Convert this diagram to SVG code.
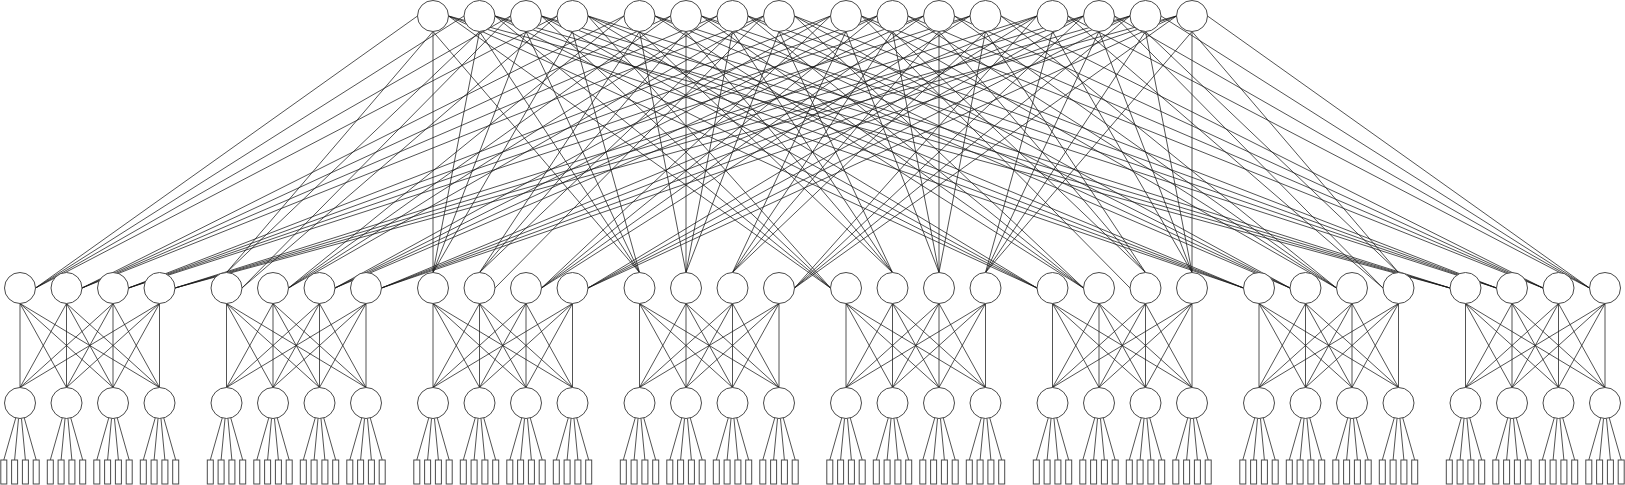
<svg xmlns="http://www.w3.org/2000/svg" xmlns:xlink="http://www.w3.org/1999/xlink" width="1625" height="485" viewBox="0 0 1625 485">
<style>
line{stroke:#1a1a1a;stroke-width:0.75;fill:none}
.n circle,.n rect{fill:#fff;stroke:#4a4a4a;stroke-width:1}
</style>
<defs>
<g id="podLinks">
<line x1="0" y1="303.5" x2="0" y2="387.5"/><line x1="0" y1="303.5" x2="46.5" y2="387.5"/><line x1="0" y1="303.5" x2="93" y2="387.5"/><line x1="0" y1="303.5" x2="139.5" y2="387.5"/>
<line x1="46.5" y1="303.5" x2="0" y2="387.5"/><line x1="46.5" y1="303.5" x2="46.5" y2="387.5"/><line x1="46.5" y1="303.5" x2="93" y2="387.5"/><line x1="46.5" y1="303.5" x2="139.5" y2="387.5"/>
<line x1="93" y1="303.5" x2="0" y2="387.5"/><line x1="93" y1="303.5" x2="46.5" y2="387.5"/><line x1="93" y1="303.5" x2="93" y2="387.5"/><line x1="93" y1="303.5" x2="139.5" y2="387.5"/>
<line x1="139.5" y1="303.5" x2="0" y2="387.5"/><line x1="139.5" y1="303.5" x2="46.5" y2="387.5"/><line x1="139.5" y1="303.5" x2="93" y2="387.5"/><line x1="139.5" y1="303.5" x2="139.5" y2="387.5"/>
<line x1="-4.24" y1="417.91" x2="-16.2" y2="460"/><line x1="-1.46" y1="418.43" x2="-5.4" y2="460"/><line x1="1.46" y1="418.43" x2="5.4" y2="460"/><line x1="4.24" y1="417.91" x2="16.2" y2="460"/>
<line x1="42.26" y1="417.91" x2="30.3" y2="460"/><line x1="45.04" y1="418.43" x2="41.1" y2="460"/><line x1="47.96" y1="418.43" x2="51.9" y2="460"/><line x1="50.74" y1="417.91" x2="62.7" y2="460"/>
<line x1="88.76" y1="417.91" x2="76.8" y2="460"/><line x1="91.54" y1="418.43" x2="87.6" y2="460"/><line x1="94.46" y1="418.43" x2="98.4" y2="460"/><line x1="97.24" y1="417.91" x2="109.2" y2="460"/>
<line x1="135.26" y1="417.91" x2="123.3" y2="460"/><line x1="138.04" y1="418.43" x2="134.1" y2="460"/><line x1="140.96" y1="418.43" x2="144.9" y2="460"/><line x1="143.74" y1="417.91" x2="155.7" y2="460"/>
</g>
</defs>
<rect width="1625" height="485" fill="#fff"/>
<g id="connectors">
<line x1="417.5" y1="16" x2="35.5" y2="288"/><line x1="433" y1="31.5" x2="226.5" y2="272.5"/><line x1="433" y1="31.5" x2="433" y2="272.5"/><line x1="433" y1="31.5" x2="639.5" y2="272.5"/><line x1="448.5" y1="16" x2="830.5" y2="288"/><line x1="448.5" y1="16" x2="1037" y2="288"/><line x1="448.5" y1="16" x2="1243.5" y2="288"/><line x1="448.5" y1="16" x2="1450" y2="288"/>
<line x1="464" y1="16" x2="35.5" y2="288"/><line x1="479.5" y1="31.5" x2="226.5" y2="272.5"/><line x1="479.5" y1="31.5" x2="433" y2="272.5"/><line x1="479.5" y1="31.5" x2="639.5" y2="272.5"/><line x1="495" y1="16" x2="830.5" y2="288"/><line x1="495" y1="16" x2="1037" y2="288"/><line x1="495" y1="16" x2="1243.5" y2="288"/><line x1="495" y1="16" x2="1450" y2="288"/>
<line x1="510.5" y1="16" x2="35.5" y2="288"/><line x1="510.5" y1="16" x2="242" y2="288"/><line x1="526" y1="31.5" x2="433" y2="272.5"/><line x1="526" y1="31.5" x2="639.5" y2="272.5"/><line x1="541.5" y1="16" x2="830.5" y2="288"/><line x1="541.5" y1="16" x2="1037" y2="288"/><line x1="541.5" y1="16" x2="1243.5" y2="288"/><line x1="541.5" y1="16" x2="1450" y2="288"/>
<line x1="557" y1="16" x2="35.5" y2="288"/><line x1="557" y1="16" x2="242" y2="288"/><line x1="572.5" y1="31.5" x2="433" y2="272.5"/><line x1="572.5" y1="31.5" x2="639.5" y2="272.5"/><line x1="588" y1="16" x2="830.5" y2="288"/><line x1="588" y1="16" x2="1037" y2="288"/><line x1="588" y1="16" x2="1243.5" y2="288"/><line x1="588" y1="16" x2="1450" y2="288"/>
<line x1="624" y1="16" x2="82" y2="288"/><line x1="624" y1="16" x2="288.5" y2="288"/><line x1="639.5" y1="31.5" x2="479.5" y2="272.5"/><line x1="639.5" y1="31.5" x2="686" y2="272.5"/><line x1="639.5" y1="31.5" x2="892.5" y2="272.5"/><line x1="655" y1="16" x2="1083.5" y2="288"/><line x1="655" y1="16" x2="1290" y2="288"/><line x1="655" y1="16" x2="1496.5" y2="288"/>
<line x1="670.5" y1="16" x2="82" y2="288"/><line x1="670.5" y1="16" x2="288.5" y2="288"/><line x1="686" y1="31.5" x2="479.5" y2="272.5"/><line x1="686" y1="31.5" x2="686" y2="272.5"/><line x1="686" y1="31.5" x2="892.5" y2="272.5"/><line x1="701.5" y1="16" x2="1083.5" y2="288"/><line x1="701.5" y1="16" x2="1290" y2="288"/><line x1="701.5" y1="16" x2="1496.5" y2="288"/>
<line x1="717" y1="16" x2="82" y2="288"/><line x1="717" y1="16" x2="288.5" y2="288"/><line x1="732.5" y1="31.5" x2="479.5" y2="272.5"/><line x1="732.5" y1="31.5" x2="686" y2="272.5"/><line x1="732.5" y1="31.5" x2="892.5" y2="272.5"/><line x1="748" y1="16" x2="1083.5" y2="288"/><line x1="748" y1="16" x2="1290" y2="288"/><line x1="748" y1="16" x2="1496.5" y2="288"/>
<line x1="763.5" y1="16" x2="82" y2="288"/><line x1="763.5" y1="16" x2="288.5" y2="288"/><line x1="763.5" y1="16" x2="495" y2="288"/><line x1="779" y1="31.5" x2="686" y2="272.5"/><line x1="779" y1="31.5" x2="892.5" y2="272.5"/><line x1="794.5" y1="16" x2="1083.5" y2="288"/><line x1="794.5" y1="16" x2="1290" y2="288"/><line x1="794.5" y1="16" x2="1496.5" y2="288"/>
<line x1="830.5" y1="16" x2="128.5" y2="288"/><line x1="830.5" y1="16" x2="335" y2="288"/><line x1="830.5" y1="16" x2="541.5" y2="288"/><line x1="846" y1="31.5" x2="732.5" y2="272.5"/><line x1="846" y1="31.5" x2="939" y2="272.5"/><line x1="861.5" y1="16" x2="1130" y2="288"/><line x1="861.5" y1="16" x2="1336.5" y2="288"/><line x1="861.5" y1="16" x2="1543" y2="288"/>
<line x1="877" y1="16" x2="128.5" y2="288"/><line x1="877" y1="16" x2="335" y2="288"/><line x1="877" y1="16" x2="541.5" y2="288"/><line x1="892.5" y1="31.5" x2="732.5" y2="272.5"/><line x1="892.5" y1="31.5" x2="939" y2="272.5"/><line x1="892.5" y1="31.5" x2="1145.5" y2="272.5"/><line x1="908" y1="16" x2="1336.5" y2="288"/><line x1="908" y1="16" x2="1543" y2="288"/>
<line x1="923.5" y1="16" x2="128.5" y2="288"/><line x1="923.5" y1="16" x2="335" y2="288"/><line x1="923.5" y1="16" x2="541.5" y2="288"/><line x1="939" y1="31.5" x2="732.5" y2="272.5"/><line x1="939" y1="31.5" x2="939" y2="272.5"/><line x1="939" y1="31.5" x2="1145.5" y2="272.5"/><line x1="954.5" y1="16" x2="1336.5" y2="288"/><line x1="954.5" y1="16" x2="1543" y2="288"/>
<line x1="970" y1="16" x2="128.5" y2="288"/><line x1="970" y1="16" x2="335" y2="288"/><line x1="970" y1="16" x2="541.5" y2="288"/><line x1="985.5" y1="31.5" x2="732.5" y2="272.5"/><line x1="985.5" y1="31.5" x2="939" y2="272.5"/><line x1="985.5" y1="31.5" x2="1145.5" y2="272.5"/><line x1="1001" y1="16" x2="1336.5" y2="288"/><line x1="1001" y1="16" x2="1543" y2="288"/>
<line x1="1037" y1="16" x2="175" y2="288"/><line x1="1037" y1="16" x2="381.5" y2="288"/><line x1="1037" y1="16" x2="588" y2="288"/><line x1="1037" y1="16" x2="794.5" y2="288"/><line x1="1052.5" y1="31.5" x2="985.5" y2="272.5"/><line x1="1052.5" y1="31.5" x2="1192" y2="272.5"/><line x1="1068" y1="16" x2="1383" y2="288"/><line x1="1068" y1="16" x2="1589.5" y2="288"/>
<line x1="1083.5" y1="16" x2="175" y2="288"/><line x1="1083.5" y1="16" x2="381.5" y2="288"/><line x1="1083.5" y1="16" x2="588" y2="288"/><line x1="1083.5" y1="16" x2="794.5" y2="288"/><line x1="1099" y1="31.5" x2="985.5" y2="272.5"/><line x1="1099" y1="31.5" x2="1192" y2="272.5"/><line x1="1114.5" y1="16" x2="1383" y2="288"/><line x1="1114.5" y1="16" x2="1589.5" y2="288"/>
<line x1="1130" y1="16" x2="175" y2="288"/><line x1="1130" y1="16" x2="381.5" y2="288"/><line x1="1130" y1="16" x2="588" y2="288"/><line x1="1130" y1="16" x2="794.5" y2="288"/><line x1="1145.5" y1="31.5" x2="985.5" y2="272.5"/><line x1="1145.5" y1="31.5" x2="1192" y2="272.5"/><line x1="1145.5" y1="31.5" x2="1398.5" y2="272.5"/><line x1="1161" y1="16" x2="1589.5" y2="288"/>
<line x1="1176.5" y1="16" x2="175" y2="288"/><line x1="1176.5" y1="16" x2="381.5" y2="288"/><line x1="1176.5" y1="16" x2="588" y2="288"/><line x1="1176.5" y1="16" x2="794.5" y2="288"/><line x1="1192" y1="31.5" x2="985.5" y2="272.5"/><line x1="1192" y1="31.5" x2="1192" y2="272.5"/><line x1="1192" y1="31.5" x2="1398.5" y2="272.5"/><line x1="1207.5" y1="16" x2="1589.5" y2="288"/>
<use xlink:href="#podLinks" href="#podLinks" x="20"/>
<use xlink:href="#podLinks" href="#podLinks" x="226.5"/>
<use xlink:href="#podLinks" href="#podLinks" x="433"/>
<use xlink:href="#podLinks" href="#podLinks" x="639.5"/>
<use xlink:href="#podLinks" href="#podLinks" x="846"/>
<use xlink:href="#podLinks" href="#podLinks" x="1052.5"/>
<use xlink:href="#podLinks" href="#podLinks" x="1259"/>
<use xlink:href="#podLinks" href="#podLinks" x="1465.5"/>
</g>
<g id="core">
<g id="c0" class="n"><circle cx="433" cy="16" r="15.5"/></g>
<g id="c1" class="n"><circle cx="479.5" cy="16" r="15.5"/></g>
<g id="c2" class="n"><circle cx="526" cy="16" r="15.5"/></g>
<g id="c3" class="n"><circle cx="572.5" cy="16" r="15.5"/></g>
<g id="c4" class="n"><circle cx="639.5" cy="16" r="15.5"/></g>
<g id="c5" class="n"><circle cx="686" cy="16" r="15.5"/></g>
<g id="c6" class="n"><circle cx="732.5" cy="16" r="15.5"/></g>
<g id="c7" class="n"><circle cx="779" cy="16" r="15.5"/></g>
<g id="c8" class="n"><circle cx="846" cy="16" r="15.5"/></g>
<g id="c9" class="n"><circle cx="892.5" cy="16" r="15.5"/></g>
<g id="c10" class="n"><circle cx="939" cy="16" r="15.5"/></g>
<g id="c11" class="n"><circle cx="985.5" cy="16" r="15.5"/></g>
<g id="c12" class="n"><circle cx="1052.5" cy="16" r="15.5"/></g>
<g id="c13" class="n"><circle cx="1099" cy="16" r="15.5"/></g>
<g id="c14" class="n"><circle cx="1145.5" cy="16" r="15.5"/></g>
<g id="c15" class="n"><circle cx="1192" cy="16" r="15.5"/></g>
</g>
<g id="pod0" transform="translate(20 0)">
<g id="a0-0" class="n"><circle cx="0" cy="288" r="15.5"/></g><g id="a0-1" class="n"><circle cx="46.5" cy="288" r="15.5"/></g><g id="a0-2" class="n"><circle cx="93" cy="288" r="15.5"/></g><g id="a0-3" class="n"><circle cx="139.5" cy="288" r="15.5"/></g>
<g id="e0-0" class="n"><circle cx="0" cy="403" r="15.5"/></g><g id="e0-1" class="n"><circle cx="46.5" cy="403" r="15.5"/></g><g id="e0-2" class="n"><circle cx="93" cy="403" r="15.5"/></g><g id="e0-3" class="n"><circle cx="139.5" cy="403" r="15.5"/></g>
<g id="h0-0-0" class="n"><rect x="-19.2" y="460" width="6" height="24"/></g><g id="h0-0-1" class="n"><rect x="-8.4" y="460" width="6" height="24"/></g><g id="h0-0-2" class="n"><rect x="2.4" y="460" width="6" height="24"/></g><g id="h0-0-3" class="n"><rect x="13.2" y="460" width="6" height="24"/></g>
<g id="h0-1-0" class="n"><rect x="27.3" y="460" width="6" height="24"/></g><g id="h0-1-1" class="n"><rect x="38.1" y="460" width="6" height="24"/></g><g id="h0-1-2" class="n"><rect x="48.9" y="460" width="6" height="24"/></g><g id="h0-1-3" class="n"><rect x="59.7" y="460" width="6" height="24"/></g>
<g id="h0-2-0" class="n"><rect x="73.8" y="460" width="6" height="24"/></g><g id="h0-2-1" class="n"><rect x="84.6" y="460" width="6" height="24"/></g><g id="h0-2-2" class="n"><rect x="95.4" y="460" width="6" height="24"/></g><g id="h0-2-3" class="n"><rect x="106.2" y="460" width="6" height="24"/></g>
<g id="h0-3-0" class="n"><rect x="120.3" y="460" width="6" height="24"/></g><g id="h0-3-1" class="n"><rect x="131.1" y="460" width="6" height="24"/></g><g id="h0-3-2" class="n"><rect x="141.9" y="460" width="6" height="24"/></g><g id="h0-3-3" class="n"><rect x="152.7" y="460" width="6" height="24"/></g>
</g>
<g id="pod1" transform="translate(226.5 0)">
<g id="a1-0" class="n"><circle cx="0" cy="288" r="15.5"/></g><g id="a1-1" class="n"><circle cx="46.5" cy="288" r="15.5"/></g><g id="a1-2" class="n"><circle cx="93" cy="288" r="15.5"/></g><g id="a1-3" class="n"><circle cx="139.5" cy="288" r="15.5"/></g>
<g id="e1-0" class="n"><circle cx="0" cy="403" r="15.5"/></g><g id="e1-1" class="n"><circle cx="46.5" cy="403" r="15.5"/></g><g id="e1-2" class="n"><circle cx="93" cy="403" r="15.5"/></g><g id="e1-3" class="n"><circle cx="139.5" cy="403" r="15.5"/></g>
<g id="h1-0-0" class="n"><rect x="-19.2" y="460" width="6" height="24"/></g><g id="h1-0-1" class="n"><rect x="-8.4" y="460" width="6" height="24"/></g><g id="h1-0-2" class="n"><rect x="2.4" y="460" width="6" height="24"/></g><g id="h1-0-3" class="n"><rect x="13.2" y="460" width="6" height="24"/></g>
<g id="h1-1-0" class="n"><rect x="27.3" y="460" width="6" height="24"/></g><g id="h1-1-1" class="n"><rect x="38.1" y="460" width="6" height="24"/></g><g id="h1-1-2" class="n"><rect x="48.9" y="460" width="6" height="24"/></g><g id="h1-1-3" class="n"><rect x="59.7" y="460" width="6" height="24"/></g>
<g id="h1-2-0" class="n"><rect x="73.8" y="460" width="6" height="24"/></g><g id="h1-2-1" class="n"><rect x="84.6" y="460" width="6" height="24"/></g><g id="h1-2-2" class="n"><rect x="95.4" y="460" width="6" height="24"/></g><g id="h1-2-3" class="n"><rect x="106.2" y="460" width="6" height="24"/></g>
<g id="h1-3-0" class="n"><rect x="120.3" y="460" width="6" height="24"/></g><g id="h1-3-1" class="n"><rect x="131.1" y="460" width="6" height="24"/></g><g id="h1-3-2" class="n"><rect x="141.9" y="460" width="6" height="24"/></g><g id="h1-3-3" class="n"><rect x="152.7" y="460" width="6" height="24"/></g>
</g>
<g id="pod2" transform="translate(433 0)">
<g id="a2-0" class="n"><circle cx="0" cy="288" r="15.5"/></g><g id="a2-1" class="n"><circle cx="46.5" cy="288" r="15.5"/></g><g id="a2-2" class="n"><circle cx="93" cy="288" r="15.5"/></g><g id="a2-3" class="n"><circle cx="139.5" cy="288" r="15.5"/></g>
<g id="e2-0" class="n"><circle cx="0" cy="403" r="15.5"/></g><g id="e2-1" class="n"><circle cx="46.5" cy="403" r="15.5"/></g><g id="e2-2" class="n"><circle cx="93" cy="403" r="15.5"/></g><g id="e2-3" class="n"><circle cx="139.5" cy="403" r="15.5"/></g>
<g id="h2-0-0" class="n"><rect x="-19.2" y="460" width="6" height="24"/></g><g id="h2-0-1" class="n"><rect x="-8.4" y="460" width="6" height="24"/></g><g id="h2-0-2" class="n"><rect x="2.4" y="460" width="6" height="24"/></g><g id="h2-0-3" class="n"><rect x="13.2" y="460" width="6" height="24"/></g>
<g id="h2-1-0" class="n"><rect x="27.3" y="460" width="6" height="24"/></g><g id="h2-1-1" class="n"><rect x="38.1" y="460" width="6" height="24"/></g><g id="h2-1-2" class="n"><rect x="48.9" y="460" width="6" height="24"/></g><g id="h2-1-3" class="n"><rect x="59.7" y="460" width="6" height="24"/></g>
<g id="h2-2-0" class="n"><rect x="73.8" y="460" width="6" height="24"/></g><g id="h2-2-1" class="n"><rect x="84.6" y="460" width="6" height="24"/></g><g id="h2-2-2" class="n"><rect x="95.4" y="460" width="6" height="24"/></g><g id="h2-2-3" class="n"><rect x="106.2" y="460" width="6" height="24"/></g>
<g id="h2-3-0" class="n"><rect x="120.3" y="460" width="6" height="24"/></g><g id="h2-3-1" class="n"><rect x="131.1" y="460" width="6" height="24"/></g><g id="h2-3-2" class="n"><rect x="141.9" y="460" width="6" height="24"/></g><g id="h2-3-3" class="n"><rect x="152.7" y="460" width="6" height="24"/></g>
</g>
<g id="pod3" transform="translate(639.5 0)">
<g id="a3-0" class="n"><circle cx="0" cy="288" r="15.5"/></g><g id="a3-1" class="n"><circle cx="46.5" cy="288" r="15.5"/></g><g id="a3-2" class="n"><circle cx="93" cy="288" r="15.5"/></g><g id="a3-3" class="n"><circle cx="139.5" cy="288" r="15.5"/></g>
<g id="e3-0" class="n"><circle cx="0" cy="403" r="15.5"/></g><g id="e3-1" class="n"><circle cx="46.5" cy="403" r="15.5"/></g><g id="e3-2" class="n"><circle cx="93" cy="403" r="15.5"/></g><g id="e3-3" class="n"><circle cx="139.5" cy="403" r="15.5"/></g>
<g id="h3-0-0" class="n"><rect x="-19.2" y="460" width="6" height="24"/></g><g id="h3-0-1" class="n"><rect x="-8.4" y="460" width="6" height="24"/></g><g id="h3-0-2" class="n"><rect x="2.4" y="460" width="6" height="24"/></g><g id="h3-0-3" class="n"><rect x="13.2" y="460" width="6" height="24"/></g>
<g id="h3-1-0" class="n"><rect x="27.3" y="460" width="6" height="24"/></g><g id="h3-1-1" class="n"><rect x="38.1" y="460" width="6" height="24"/></g><g id="h3-1-2" class="n"><rect x="48.9" y="460" width="6" height="24"/></g><g id="h3-1-3" class="n"><rect x="59.7" y="460" width="6" height="24"/></g>
<g id="h3-2-0" class="n"><rect x="73.8" y="460" width="6" height="24"/></g><g id="h3-2-1" class="n"><rect x="84.6" y="460" width="6" height="24"/></g><g id="h3-2-2" class="n"><rect x="95.4" y="460" width="6" height="24"/></g><g id="h3-2-3" class="n"><rect x="106.2" y="460" width="6" height="24"/></g>
<g id="h3-3-0" class="n"><rect x="120.3" y="460" width="6" height="24"/></g><g id="h3-3-1" class="n"><rect x="131.1" y="460" width="6" height="24"/></g><g id="h3-3-2" class="n"><rect x="141.9" y="460" width="6" height="24"/></g><g id="h3-3-3" class="n"><rect x="152.7" y="460" width="6" height="24"/></g>
</g>
<g id="pod4" transform="translate(846 0)">
<g id="a4-0" class="n"><circle cx="0" cy="288" r="15.5"/></g><g id="a4-1" class="n"><circle cx="46.5" cy="288" r="15.5"/></g><g id="a4-2" class="n"><circle cx="93" cy="288" r="15.5"/></g><g id="a4-3" class="n"><circle cx="139.5" cy="288" r="15.5"/></g>
<g id="e4-0" class="n"><circle cx="0" cy="403" r="15.5"/></g><g id="e4-1" class="n"><circle cx="46.5" cy="403" r="15.5"/></g><g id="e4-2" class="n"><circle cx="93" cy="403" r="15.5"/></g><g id="e4-3" class="n"><circle cx="139.5" cy="403" r="15.5"/></g>
<g id="h4-0-0" class="n"><rect x="-19.2" y="460" width="6" height="24"/></g><g id="h4-0-1" class="n"><rect x="-8.4" y="460" width="6" height="24"/></g><g id="h4-0-2" class="n"><rect x="2.4" y="460" width="6" height="24"/></g><g id="h4-0-3" class="n"><rect x="13.2" y="460" width="6" height="24"/></g>
<g id="h4-1-0" class="n"><rect x="27.3" y="460" width="6" height="24"/></g><g id="h4-1-1" class="n"><rect x="38.1" y="460" width="6" height="24"/></g><g id="h4-1-2" class="n"><rect x="48.9" y="460" width="6" height="24"/></g><g id="h4-1-3" class="n"><rect x="59.7" y="460" width="6" height="24"/></g>
<g id="h4-2-0" class="n"><rect x="73.8" y="460" width="6" height="24"/></g><g id="h4-2-1" class="n"><rect x="84.6" y="460" width="6" height="24"/></g><g id="h4-2-2" class="n"><rect x="95.4" y="460" width="6" height="24"/></g><g id="h4-2-3" class="n"><rect x="106.2" y="460" width="6" height="24"/></g>
<g id="h4-3-0" class="n"><rect x="120.3" y="460" width="6" height="24"/></g><g id="h4-3-1" class="n"><rect x="131.1" y="460" width="6" height="24"/></g><g id="h4-3-2" class="n"><rect x="141.9" y="460" width="6" height="24"/></g><g id="h4-3-3" class="n"><rect x="152.7" y="460" width="6" height="24"/></g>
</g>
<g id="pod5" transform="translate(1052.5 0)">
<g id="a5-0" class="n"><circle cx="0" cy="288" r="15.5"/></g><g id="a5-1" class="n"><circle cx="46.5" cy="288" r="15.5"/></g><g id="a5-2" class="n"><circle cx="93" cy="288" r="15.5"/></g><g id="a5-3" class="n"><circle cx="139.5" cy="288" r="15.5"/></g>
<g id="e5-0" class="n"><circle cx="0" cy="403" r="15.5"/></g><g id="e5-1" class="n"><circle cx="46.5" cy="403" r="15.5"/></g><g id="e5-2" class="n"><circle cx="93" cy="403" r="15.5"/></g><g id="e5-3" class="n"><circle cx="139.5" cy="403" r="15.5"/></g>
<g id="h5-0-0" class="n"><rect x="-19.2" y="460" width="6" height="24"/></g><g id="h5-0-1" class="n"><rect x="-8.4" y="460" width="6" height="24"/></g><g id="h5-0-2" class="n"><rect x="2.4" y="460" width="6" height="24"/></g><g id="h5-0-3" class="n"><rect x="13.2" y="460" width="6" height="24"/></g>
<g id="h5-1-0" class="n"><rect x="27.3" y="460" width="6" height="24"/></g><g id="h5-1-1" class="n"><rect x="38.1" y="460" width="6" height="24"/></g><g id="h5-1-2" class="n"><rect x="48.9" y="460" width="6" height="24"/></g><g id="h5-1-3" class="n"><rect x="59.7" y="460" width="6" height="24"/></g>
<g id="h5-2-0" class="n"><rect x="73.8" y="460" width="6" height="24"/></g><g id="h5-2-1" class="n"><rect x="84.6" y="460" width="6" height="24"/></g><g id="h5-2-2" class="n"><rect x="95.4" y="460" width="6" height="24"/></g><g id="h5-2-3" class="n"><rect x="106.2" y="460" width="6" height="24"/></g>
<g id="h5-3-0" class="n"><rect x="120.3" y="460" width="6" height="24"/></g><g id="h5-3-1" class="n"><rect x="131.1" y="460" width="6" height="24"/></g><g id="h5-3-2" class="n"><rect x="141.9" y="460" width="6" height="24"/></g><g id="h5-3-3" class="n"><rect x="152.7" y="460" width="6" height="24"/></g>
</g>
<g id="pod6" transform="translate(1259 0)">
<g id="a6-0" class="n"><circle cx="0" cy="288" r="15.5"/></g><g id="a6-1" class="n"><circle cx="46.5" cy="288" r="15.5"/></g><g id="a6-2" class="n"><circle cx="93" cy="288" r="15.5"/></g><g id="a6-3" class="n"><circle cx="139.5" cy="288" r="15.5"/></g>
<g id="e6-0" class="n"><circle cx="0" cy="403" r="15.5"/></g><g id="e6-1" class="n"><circle cx="46.5" cy="403" r="15.5"/></g><g id="e6-2" class="n"><circle cx="93" cy="403" r="15.5"/></g><g id="e6-3" class="n"><circle cx="139.5" cy="403" r="15.5"/></g>
<g id="h6-0-0" class="n"><rect x="-19.2" y="460" width="6" height="24"/></g><g id="h6-0-1" class="n"><rect x="-8.4" y="460" width="6" height="24"/></g><g id="h6-0-2" class="n"><rect x="2.4" y="460" width="6" height="24"/></g><g id="h6-0-3" class="n"><rect x="13.2" y="460" width="6" height="24"/></g>
<g id="h6-1-0" class="n"><rect x="27.3" y="460" width="6" height="24"/></g><g id="h6-1-1" class="n"><rect x="38.1" y="460" width="6" height="24"/></g><g id="h6-1-2" class="n"><rect x="48.9" y="460" width="6" height="24"/></g><g id="h6-1-3" class="n"><rect x="59.7" y="460" width="6" height="24"/></g>
<g id="h6-2-0" class="n"><rect x="73.8" y="460" width="6" height="24"/></g><g id="h6-2-1" class="n"><rect x="84.6" y="460" width="6" height="24"/></g><g id="h6-2-2" class="n"><rect x="95.4" y="460" width="6" height="24"/></g><g id="h6-2-3" class="n"><rect x="106.2" y="460" width="6" height="24"/></g>
<g id="h6-3-0" class="n"><rect x="120.3" y="460" width="6" height="24"/></g><g id="h6-3-1" class="n"><rect x="131.1" y="460" width="6" height="24"/></g><g id="h6-3-2" class="n"><rect x="141.9" y="460" width="6" height="24"/></g><g id="h6-3-3" class="n"><rect x="152.7" y="460" width="6" height="24"/></g>
</g>
<g id="pod7" transform="translate(1465.5 0)">
<g id="a7-0" class="n"><circle cx="0" cy="288" r="15.5"/></g><g id="a7-1" class="n"><circle cx="46.5" cy="288" r="15.5"/></g><g id="a7-2" class="n"><circle cx="93" cy="288" r="15.5"/></g><g id="a7-3" class="n"><circle cx="139.5" cy="288" r="15.5"/></g>
<g id="e7-0" class="n"><circle cx="0" cy="403" r="15.5"/></g><g id="e7-1" class="n"><circle cx="46.5" cy="403" r="15.5"/></g><g id="e7-2" class="n"><circle cx="93" cy="403" r="15.5"/></g><g id="e7-3" class="n"><circle cx="139.5" cy="403" r="15.5"/></g>
<g id="h7-0-0" class="n"><rect x="-19.2" y="460" width="6" height="24"/></g><g id="h7-0-1" class="n"><rect x="-8.4" y="460" width="6" height="24"/></g><g id="h7-0-2" class="n"><rect x="2.4" y="460" width="6" height="24"/></g><g id="h7-0-3" class="n"><rect x="13.2" y="460" width="6" height="24"/></g>
<g id="h7-1-0" class="n"><rect x="27.3" y="460" width="6" height="24"/></g><g id="h7-1-1" class="n"><rect x="38.1" y="460" width="6" height="24"/></g><g id="h7-1-2" class="n"><rect x="48.9" y="460" width="6" height="24"/></g><g id="h7-1-3" class="n"><rect x="59.7" y="460" width="6" height="24"/></g>
<g id="h7-2-0" class="n"><rect x="73.8" y="460" width="6" height="24"/></g><g id="h7-2-1" class="n"><rect x="84.6" y="460" width="6" height="24"/></g><g id="h7-2-2" class="n"><rect x="95.4" y="460" width="6" height="24"/></g><g id="h7-2-3" class="n"><rect x="106.2" y="460" width="6" height="24"/></g>
<g id="h7-3-0" class="n"><rect x="120.3" y="460" width="6" height="24"/></g><g id="h7-3-1" class="n"><rect x="131.1" y="460" width="6" height="24"/></g><g id="h7-3-2" class="n"><rect x="141.9" y="460" width="6" height="24"/></g><g id="h7-3-3" class="n"><rect x="152.7" y="460" width="6" height="24"/></g>
</g>
</svg>
